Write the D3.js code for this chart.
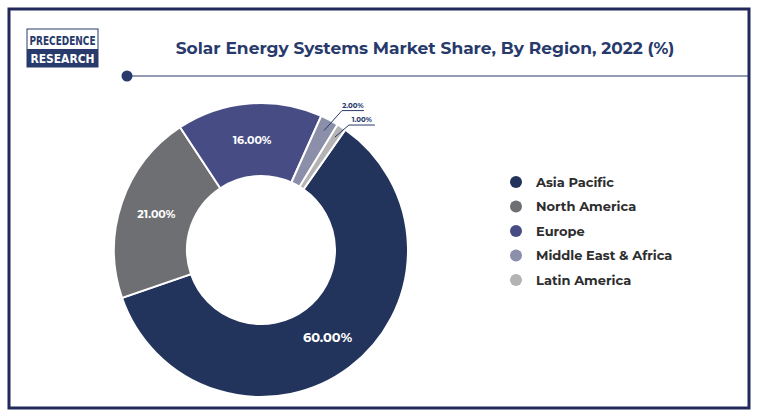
<!DOCTYPE html><html><head><meta charset="utf-8"><script src="https://cdn.jsdelivr.net/npm/d3@7"></script>
<style>body{margin:0;background:#fff;font-family:Montserrat,"Open Sans",sans-serif}</style></head><body><svg id="c" width="760" height="419"></svg>
<script>
const categories=["Asia Pacific","North America","Europe","Middle East & Africa","Latin America"];
const values=[60,21,16,2,1];
const labels=["60.00%","21.00%","16.00%","2.00%","1.00%"];
const colors=["#22335c","#6e6f72","#474d84","#8b8fa9","#b3b3b5"];
const svg=d3.select("#c");
svg.append("rect").attr("x",9).attr("y",9).attr("width",740).attr("height",399).attr("fill","none").attr("stroke","#22295a").attr("stroke-width",3);
// logo
const lg=svg.append("g");
lg.append("rect").attr("x",27).attr("y",29).attr("width",71).attr("height",38).attr("fill","#fff").attr("stroke","#283a6b").attr("stroke-width",1);
lg.append("rect").attr("x",27).attr("y",49).attr("width",71).attr("height",18).attr("fill","#283a6b");
lg.append("text").attr("x",62.5).attr("y",45).attr("text-anchor","middle").attr("font-family","DejaVu Sans Condensed").attr("font-weight","bold").attr("font-size",12).attr("fill","#283a6b").attr("textLength",66).attr("lengthAdjust","spacingAndGlyphs").text("PRECEDENCE");
lg.append("text").attr("x",62.5).attr("y",63).attr("text-anchor","middle").attr("font-family","DejaVu Sans Condensed").attr("font-weight","bold").attr("font-size",13).attr("fill","#fff").attr("textLength",64).attr("lengthAdjust","spacingAndGlyphs").text("RESEARCH");
// title
svg.append("text").attr("x",425).attr("y",54).attr("text-anchor","middle").attr("font-weight","bold").attr("font-size",17).attr("fill","#283a6b").text("Solar Energy Systems Market Share, By Region, 2022 (%)");
svg.append("line").attr("x1",127).attr("x2",748).attr("y1",76).attr("y2",76).attr("stroke","#283a6b").attr("stroke-width",1.2);
svg.append("circle").attr("cx",127).attr("cy",76).attr("r",5.5).attr("fill","#283a6b");
// donut
const cx=261,cy=250,R=147,r=74;
const pie=d3.pie().sort(null).startAngle(35*Math.PI/180).endAngle(395*Math.PI/180);
const arcs=pie(values);
const arc=d3.arc().innerRadius(r).outerRadius(R);
const g=svg.append("g").attr("transform",`translate(${cx},${cy})`);
g.selectAll("path").data(arcs).join("path").attr("d",arc).attr("fill",(d,i)=>colors[i]).attr("stroke","#fff").attr("stroke-width",2);
const mid=d3.arc().innerRadius((r+R)/2).outerRadius((r+R)/2);
arcs.forEach((d,i)=>{
  if(values[i]>=5){
    const c=mid.centroid(d);
    g.append("text").attr("x",c[0]).attr("y",c[1]+4).attr("text-anchor","middle").attr("font-weight","bold").attr("font-size",i==0?13:11).attr("fill","#fff").text(labels[i]);
  }else{
    const a=(d.startAngle+d.endAngle)/2;
    const p=[Math.sin(a)*(R-12),-Math.cos(a)*(R-12)];
    const q=[p[0]+(i==3?18:14),p[1]-(i==3?20:12)];
    const e=[q[0]+(i==3?22:26),q[1]];
    g.append("polyline").attr("points",[p,q,e].map(v=>v.join(",")).join(" ")).attr("fill","none").attr("stroke","#283a6b").attr("stroke-width",1);
    g.append("text").attr("x",(q[0]+e[0])/2).attr("y",q[1]-3).attr("text-anchor","middle").attr("font-weight","bold").attr("font-size",7).attr("fill","#283a6b").text(labels[i]);
  }
});
// legend
const lgY=d3.scalePoint().domain(categories).range([182,280]);
const leg=svg.append("g");
categories.forEach((c,i)=>{
  leg.append("circle").attr("cx",516).attr("cy",lgY(c)).attr("r",6).attr("fill",colors[i]);
  leg.append("text").attr("x",536).attr("y",lgY(c)+4.5).attr("font-weight","bold").attr("font-size",13).attr("fill","#2d2d2d").text(c);
});
</script></body></html>
